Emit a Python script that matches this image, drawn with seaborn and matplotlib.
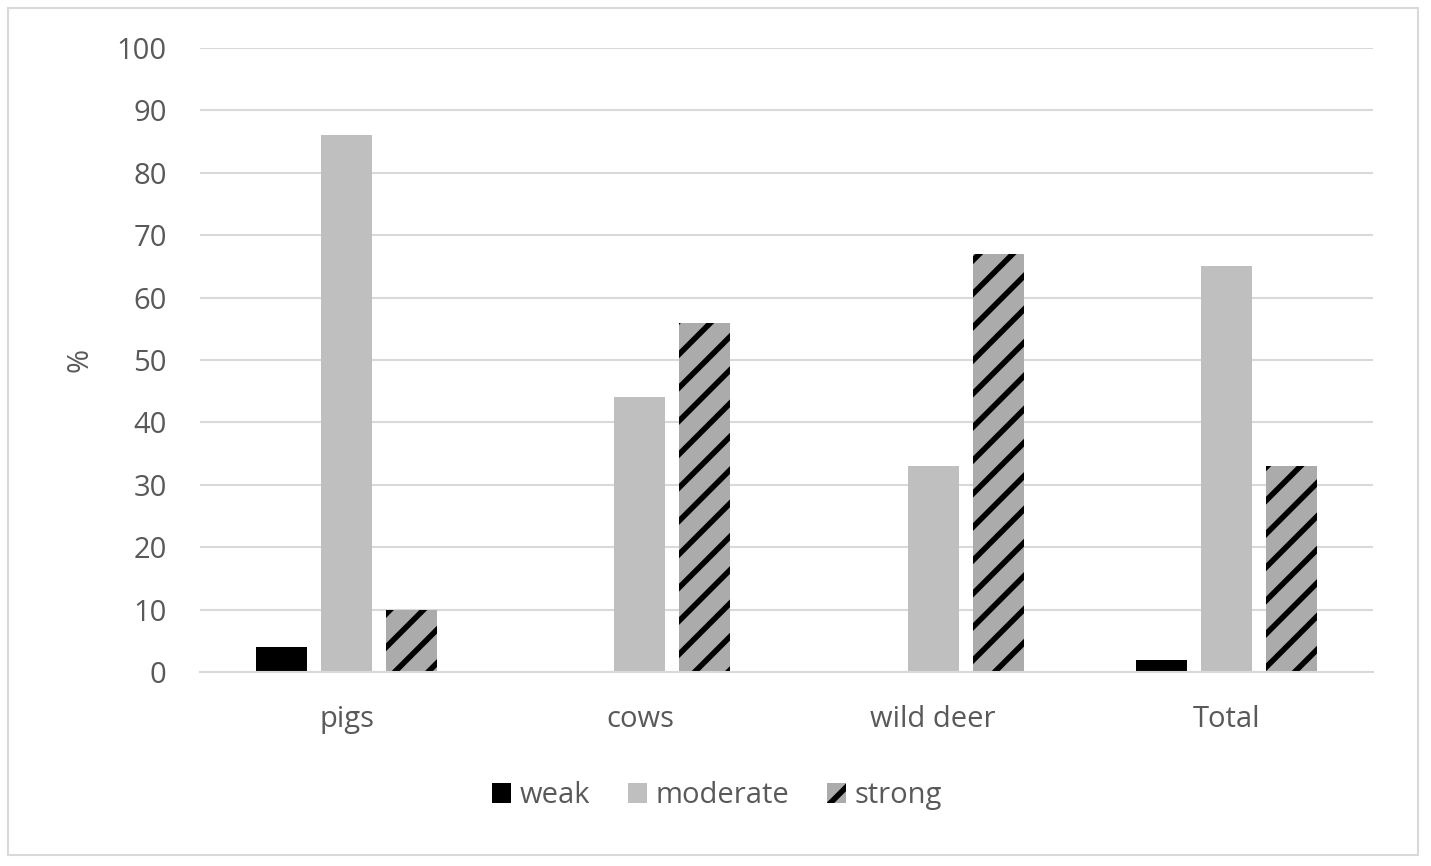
import matplotlib.pyplot as plt
import numpy as np
import seaborn as sns
import pandas as pd
from matplotlib.patches import Rectangle

categories = ["pigs", "cows", "wild deer", "Total"]
levels = ["weak", "moderate", "strong"]
weak = [4, 0, 0, 2]
moderate = [86, 44, 33, 65]
strong = [10, 56, 67, 33]
y_ticks = [0, 10, 20, 30, 40, 50, 60, 70, 80, 90, 100]

df = pd.DataFrame({
    "category": categories * 3,
    "level": ["weak"] * 4 + ["moderate"] * 4 + ["strong"] * 4,
    "value": weak + moderate + strong,
})

sns.set_style("white")
plt.rcParams['font.family'] = ['Open Sans', 'DejaVu Sans']
plt.rcParams['hatch.linewidth'] = 4

text_col = '#595959'
fs = 21
colors = {"weak": "#000000", "moderate": "#BFBFBF", "strong": "#ABABAB"}

fig = plt.figure(figsize=(14.31, 8.66), dpi=100)
ax = fig.add_axes([0.1398, 0.224, 0.8197, 0.7206])

sns.barplot(data=df, x="category", y="value", hue="level", hue_order=levels,
            order=categories, palette=colors, width=0.665, gap=0.215,
            linewidth=0, legend=False, ax=ax)

# strong bars get the diagonal hatch
for p in ax.containers[2].patches:
    p.set_hatch('/')
    p.set_edgecolor('black')
    p.set_linewidth(0)

ax.set_ylim(0, 100)
ax.set_yticks(y_ticks)
ax.set_xlim(-0.5, 3.5)
ax.yaxis.grid(True, color='#D9D9D9', linewidth=1.5)
ax.set_axisbelow(True)
for s in ['top', 'right', 'left']:
    ax.spines[s].set_visible(False)
ax.spines['bottom'].set_color('#D9D9D9')
ax.spines['bottom'].set_linewidth(1.5)
ax.tick_params(axis='both', length=0, labelsize=fs, colors=text_col)
ax.tick_params(axis='y', pad=24)
ax.tick_params(axis='x', pad=24)
ax.set_xlabel(None)
ax.set_ylabel("%", fontsize=fs, color=text_col, labelpad=16)

leg = ax.legend(handles=ax.containers, labels=levels, loc='center',
                bbox_to_anchor=(0.501, 0.081), bbox_transform=fig.transFigure,
                ncol=3, frameon=False, fontsize=fs, handlelength=0.65,
                handleheight=0.65, handletextpad=0.3, columnspacing=1.3)
for t in leg.get_texts():
    t.set_color(text_col)

fig.patches.append(Rectangle((8 / 1431, 11 / 866), 1410 / 1431, 847 / 866,
                             transform=fig.transFigure, fill=False,
                             edgecolor='#D9D9D9', linewidth=1.5))

plt.savefig('out.png', dpi=100)
